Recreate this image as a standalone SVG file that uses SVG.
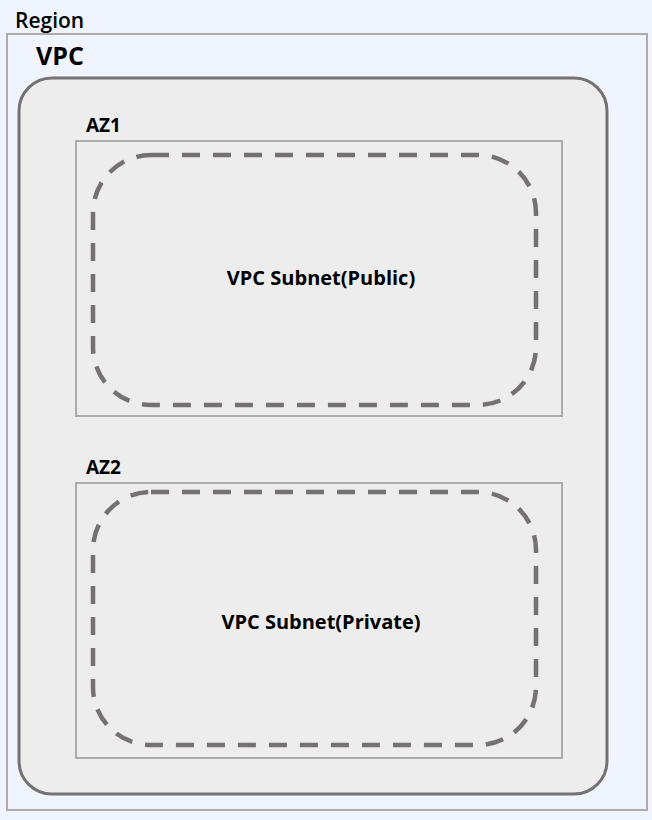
<svg xmlns="http://www.w3.org/2000/svg" width="652" height="820" viewBox="0 0 652 820">
<style>
.lbl{font-family:"Open Sans","Noto Sans","Liberation Sans",sans-serif;fill:#000}
.b{font-weight:bold}
.az{fill:#ededed;stroke:#aeaaaa;stroke-width:2}
.sub{fill:none;stroke:#767171;stroke-width:4.5;stroke-dasharray:18 13}
</style>
<rect x="0" y="0" width="652" height="820" fill="#eff4fe"/>
<g id="region">
<rect x="7" y="34" width="640" height="776" fill="#eff4fe" stroke="#aeaaaa" stroke-width="2"/>
<text class="lbl" x="15" y="28" font-size="21" font-weight="600">Region</text>
</g>
<g id="vpc">
<rect x="19" y="78" width="588" height="716" rx="33" ry="33" fill="#ededed" stroke="#767171" stroke-width="3"/>
<text class="lbl b" x="36" y="65" font-size="25">VPC</text>
</g>
<g id="az1">
<rect class="az" x="76" y="141" width="486" height="275"/>
<text class="lbl b" x="86" y="132" font-size="19">AZ1</text>
</g>
<g id="subnet-public">
<rect class="sub" x="93" y="155" width="443" height="250" rx="58" ry="58"/>
<text class="lbl b" x="321" y="285" font-size="20" text-anchor="middle">VPC Subnet(Public)</text>
</g>
<g id="az2">
<rect class="az" x="76" y="483" width="486" height="275"/>
<text class="lbl b" x="86" y="474" font-size="19">AZ2</text>
</g>
<g id="subnet-private">
<rect class="sub" x="93" y="492" width="443" height="253" rx="58" ry="58"/>
<text class="lbl b" x="321" y="629" font-size="20" text-anchor="middle">VPC Subnet(Private)</text>
</g>
<g id="connectors"></g>
</svg>
